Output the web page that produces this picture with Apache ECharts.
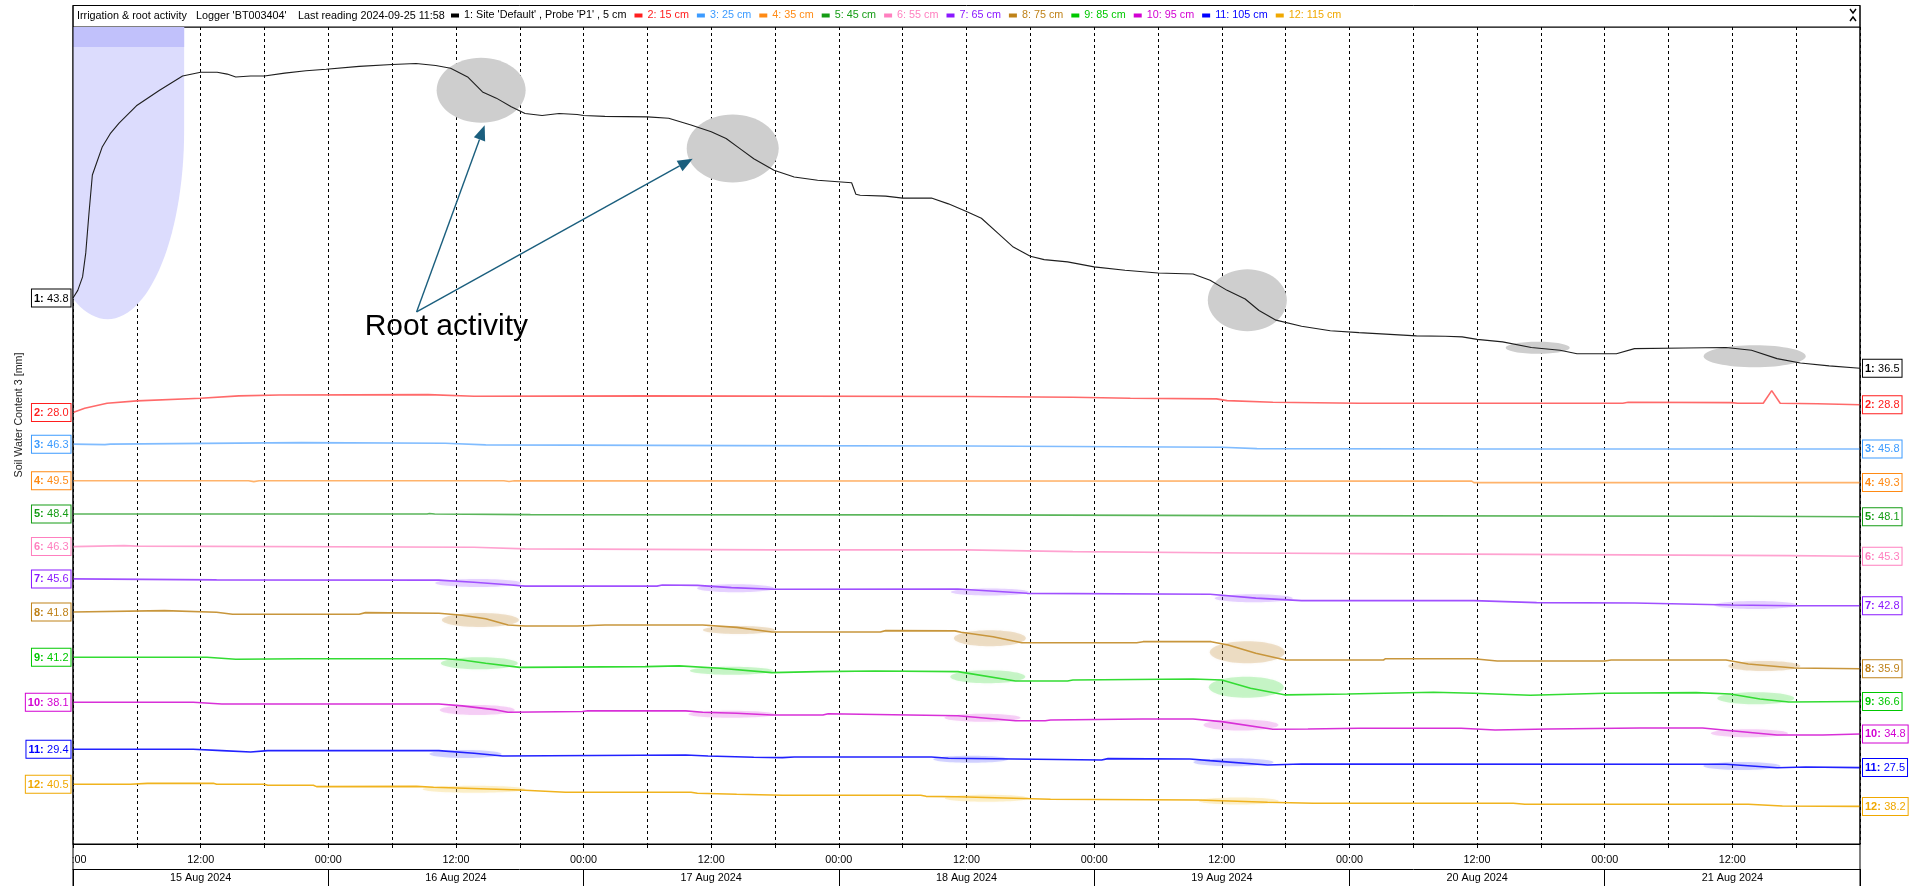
<!DOCTYPE html>
<html>
<head>
<meta charset="utf-8">
<title>Irrigation &amp; root activity</title>
<script src="https://cdn.jsdelivr.net/npm/echarts@6/dist/echarts.min.js"></script>
<style>
  html, body { margin: 0; padding: 0; background: #fff; }
  #chart { width: 1915px; height: 886px; }
</style>
</head>
<body>
<div id="chart"></div>
<script>
// ---------------- data (x = hours since 15 Aug 2024 00:00, y = soil water content, mm) ----------------
const dayLabels = ['15 Aug 2024', '16 Aug 2024', '17 Aug 2024', '18 Aug 2024', '19 Aug 2024', '20 Aug 2024', '21 Aug 2024'];

const seriesNames = [
  "1: Site 'Default' , Probe 'P1' , 5 cm", '2: 15 cm', '3: 25 cm', '4: 35 cm', '5: 45 cm', '6: 55 cm',
  '7: 65 cm', '8: 75 cm', '9: 85 cm', '10: 95 cm', '11: 105 cm', '12: 115 cm'
];

const probe1 = [[0,43.8],[0.45,44.6],[0.9,46.0],[1.2,48.5],[1.5,52.6],[1.82,56.6],[2.2,57.8],[2.76,59.55],[3.5,60.9],
  [4.33,62.0],[5.96,63.8],[8.1,65.4],[10.3,66.9],[12.0,67.3],[13.55,67.3],[14.5,67.1],[15.3,66.8],[16.7,66.9],[18,66.9],
  [19.9,67.2],[21.9,67.45],[23.8,67.6],[26.9,67.9],[30,68.1],[32.25,68.2],[34.1,68.0],[35.5,67.7],[37.1,66.8],[38.5,65.25],
  [39.8,64.6],[41.2,63.7],[42.5,63.0],[44.1,62.8],[45.7,63.0],[47.4,62.9],[48,62.8],[50,62.7],[54,62.65],[56,62.5],
  [58.1,61.8],[60,61.1],[61.4,60.4],[62.7,59.35],[64,58.3],[65.9,57.1],[67.8,56.4],[70,56.05],[73.2,55.8],[73.6,54.6],
  [74,54.5],[76.4,54.4],[78,54.2],[80.7,54.2],[82.3,53.6],[84,52.8],[85.4,52.1],[87,50.5],[88.4,49.1],[90,48.15],
  [91.3,47.8],[93.5,47.56],[96,47.04],[98.9,46.7],[102,46.4],[105.3,46.3],[106.9,45.66],[108.5,44.6],[110.2,43.7],
  [111.5,42.5],[113.1,41.5],[115.5,40.87],[118.2,40.4],[120.9,40.2],[126.3,39.86],[129,39.83],[130.6,39.76],[132,39.5],
  [134.4,39.24],[137.1,38.65],[139.8,38.37],[141.4,38.0],[145.1,38.0],[146.8,38.54],[151.6,38.6],[155.4,38.65],
  [157.8,38.37],[160.2,37.5],[162.4,37.05],[165.1,36.74],[168,36.5]];
const probe2 = [[0,28.0],[1.1,28.44],[3.2,28.96],[6,29.2],[12,29.48],[15.6,29.72],[19.4,29.82],[33.4,29.85],[37.7,29.69],
  [53.8,29.72],[84,29.66],[94,29.58],[99.4,29.48],[107.5,29.41],[108.5,29.23],[112.8,29.06],[120.9,28.96],[145.7,28.96],
  [146.2,29.06],[155.9,29.02],[156.5,28.96],[158.9,28.96],[159.7,30.27],[160.5,28.96],[164,28.9],[168,28.8]];
const probe3 = [[0,46.3],[3,46.25],[3.5,46.3],[21.5,46.46],[35,46.4],[38.8,46.22],[62.4,46.15],[84,46.1],[108,45.98],
  [111.3,45.83],[131.7,45.8],[150,45.8],[168,45.8]];
const probe4 = [[0,49.5],[16.5,49.5],[17,49.4],[17.5,49.5],[40.5,49.5],[41,49.42],[41.5,49.5],[84,49.47],[131.5,49.45],
  [131.7,49.3],[168,49.3]];
const probe5 = [[0,48.4],[33.3,48.4],[33.5,48.45],[34,48.4],[43,48.33],[84,48.3],[111.2,48.22],[157.5,48.16],[168,48.1]];
const probe6 = [[0,46.3],[4.8,46.4],[6,46.35],[37.7,46.23],[42.5,46.06],[65.7,45.96],[84,45.96],[94,45.78],[110,45.64],
  [125.8,45.54],[161.3,45.36],[168,45.3]];
const probe7 = [[0,45.6],[13.5,45.5],[34.4,45.47],[37.7,45.25],[40.9,45.0],[42.5,44.85],[54.9,44.85],[55.4,44.97],
  [58.7,44.93],[61.9,44.69],[65.9,44.52],[83.2,44.55],[89.7,44.1],[106.9,44.0],[111.2,43.6],[115.5,43.34],[131.7,43.34],
  [137.6,43.13],[146.8,43.1],[155.9,42.89],[161.8,42.8],[168,42.8]];
const probe8 = [[0,41.8],[8.6,41.94],[13.5,41.77],[15,41.56],[26.9,41.56],[27.5,41.73],[34.4,41.66],[36.6,41.46],
  [38.8,41.1],[40.9,40.45],[42.5,40.34],[47.4,40.34],[50,40.45],[59.2,40.45],[62.4,40.2],[65.7,39.72],[75.9,39.72],
  [76.4,39.86],[82.9,39.83],[83.5,39.69],[86.5,39.23],[89.2,38.6],[100,38.6],[100.6,38.71],[107,38.71],[108.6,38.37],
  [111.2,37.5],[114,36.8],[123.2,36.8],[123.4,36.94],[131.7,36.94],[133.9,36.7],[144,36.7],[144.6,36.8],[155.4,36.8],
  [157.5,36.39],[161.8,35.97],[168,35.9]];
const probe9 = [[0,41.2],[12.6,41.2],[15.3,40.99],[21.5,41.05],[35,41.05],[36.6,40.92],[38.8,40.57],[42,40.15],
  [53.8,40.22],[57,40.3],[60.8,40.05],[65.7,39.6],[70,39.7],[75.4,39.77],[83.2,39.7],[88.6,38.73],[93.5,38.73],
  [94,38.83],[105.3,38.94],[108,38.84],[110.7,37.97],[114,37.28],[119.8,37.38],[127.9,37.56],[131.7,37.45],[137,37.24],
  [144,37.45],[152.6,37.52],[155.8,37.38],[158.6,36.86],[161.3,36.55],[168,36.6]];
const probe10 = [[0,38.1],[11.3,38.1],[14,37.92],[34.4,37.92],[36.6,37.72],[39.8,37.3],[40.9,37.06],[47.9,37.13],
  [48.4,37.22],[57.6,37.2],[59.2,37.06],[62.4,36.95],[65.7,36.77],[70.5,36.77],[71,36.9],[83.2,36.7],[88.6,36.18],
  [91.4,36.18],[91.9,36.25],[100.5,36.36],[105.3,36.36],[108,36.08],[112.8,35.29],[116.1,35.32],[120.9,35.39],
  [130.5,35.39],[133.7,35.21],[138.7,35.32],[147.3,35.42],[153.2,35.42],[155.9,35.14],[160.2,34.69],[164.5,34.69],[168,34.8]];
const probe11 = [[0,29.4],[11.3,29.4],[14,29.26],[16.7,29.12],[18.3,29.26],[34.4,29.26],[37.7,28.99],[40.4,28.71],
  [57.6,28.81],[59.7,28.71],[64,28.57],[66.7,28.54],[67.8,28.6],[80.7,28.6],[82.3,28.47],[96.7,28.29],[97.3,28.43],
  [105,28.4],[106.9,28.22],[112.3,27.77],[115.5,27.87],[155.4,27.84],[160.2,27.49],[162.9,27.56],[168,27.5]];
const probe12 = [[0,40.5],[5.4,40.5],[7,40.6],[13.2,40.6],[13.5,40.5],[18,40.5],[18.3,40.4],[22.6,40.4],[22.9,40.26],
  [32.3,40.29],[33.9,40.19],[42,39.91],[46.3,39.67],[58.1,39.67],[58.7,39.57],[62.4,39.46],[66.7,39.36],[79.7,39.36],
  [80.2,39.25],[83.2,39.21],[91.9,38.94],[105.8,38.87],[112.3,38.63],[116.6,38.53],[135.4,38.53],[136.5,38.42],
  [157.5,38.42],[160.7,38.24],[168,38.2]];

const probes = [probe1, probe2, probe3, probe4, probe5, probe6, probe7, probe8, probe9, probe10, probe11, probe12];

// root-activity periods on probe 1 (hour, mm) and on the deeper probes (probe index -> [hour, mm])
const rootSpots = [[38.37,65.43],[62.02,59.35],[110.4,43.58],[137.7,38.64],[158.1,37.75]];
const probeSpots = {
  6:  [[38.1,45.17],[62.3,44.62],[86.2,44.24],[111,43.58],[158.2,42.88]],
  7:  [[38.3,40.96],[62.6,39.92],[86.2,39.06],[110.4,37.6],[159,36.18]],
  8:  [[38.2,40.57],[61.9,39.8],[86.0,39.17],[110.3,38.07],[158.2,36.93]],
  9:  [[38.0,37.29],[61.9,36.84],[85.5,36.49],[109.8,35.73],[157.6,34.87]],
  10: [[36.9,28.91],[84.4,28.36],[109.1,28.05],[156.9,27.67]],
  11: [[37.7,39.98],[85.9,39.04],[109.6,38.76]]
};
// irrigation event: window centre / end (hours) and the lowest point of its shading on the probe 1 lane
const irrigation = { centreHour: 3.25, endHour: 10.45, bottomValue: 41.6 };
// annotation anchors on the probe 1 lane
const noteAnchor = [35.1, 40.8];
const arrowFrom = [32.3, 42.36];
const arrowTips = [[38.7, 61.77], [58.26, 58.3]];

// ---------------- layout & styles ----------------
const laneMin = [-13.0, -16.9, 4.7, 11.7, 14.06, 15.36, 18.02, 17.66, 21.77, 23.35, 19.55, 34.29];
const LANE_SPAN = 85;
const lineColors = ['#1e1e1e','#ff6a6a','#80bcff','#ffb36b','#5ab55a','#ffa2d0','#a050ff','#c8963c','#33dc33','#d830d8','#2222ff','#f0b31e'];
const textColors = ['#000000','#ff1e1e','#3c9bff','#ff8a14','#159c15','#ff7fbf','#8a18ff','#bf8219','#00c800','#d200d2','#0000ff','#f0a800'];
const rootSpotSizes = [[89,65],[92,68],[79,62],[64,12],[102,22]];
const probeSpotSizes = {
  6:  [[86,8],[77,8],[78,7],[78,8],[83,8]],
  7:  [[77,14],[72,8],[72,16],[75,22],[72,10]],
  8:  [[77,12],[83,8],[75,13],[75,21],[77,12]],
  9:  [[75,10],[86,7],[76,8],[75,11],[77,8]],
  10: [[72,8],[75,7],[80,8],[77,8]],
  11: [[103,7],[84,7],[80,7]]
};
const probeSpotFill = {
  6: 'rgba(150,70,255,0.22)', 7: 'rgba(205,160,90,0.30)', 8: 'rgba(60,220,60,0.25)',
  9: 'rgba(220,60,220,0.22)', 10: 'rgba(50,50,255,0.20)', 11: 'rgba(245,200,70,0.26)'
};
const SANS = "'Liberation Sans', Arial, sans-serif";
const SMALL = 10.8;

function boxLabel(i, position) {
  const c = textColors[i];
  return {
    show: true,
    position: position,
    distance: position === 'left' ? 2 : 3,
    formatter: p => {
      const v = Array.isArray(p.value) ? p.value[1] : p.value;
      return '{k|' + (i + 1) + ':} {v|' + Number(v).toFixed(1) + '}';
    },
    backgroundColor: '#fff',
    borderColor: c,
    borderWidth: 1,
    padding: [3, 2, 2, 2],
    rich: {
      k: { fontFamily: SANS, fontSize: 11, fontWeight: 'bold', color: c },
      v: { fontFamily: SANS, fontSize: 11, color: c }
    }
  };
}

const yAxes = laneMin.map(m => ({ type: 'value', gridIndex: 0, min: m, max: m + LANE_SPAN, show: false }));

const series = probes.map((d, i) => ({
  name: seriesNames[i],
  type: 'line',
  xAxisIndex: 0,
  yAxisIndex: i,
  data: d,
  showSymbol: false,
  smooth: false,
  z: 3,
  lineStyle: { color: lineColors[i], width: i === 0 ? 1.1 : 1.6 },
  itemStyle: { color: lineColors[i] },
  endLabel: boxLabel(i, 'right'),
  markPoint: {
    silent: true,
    symbol: 'circle',
    symbolSize: 1,
    itemStyle: { color: 'rgba(0,0,0,0)' },
    data: [{ coord: d[0], value: d[0][1] }],
    label: boxLabel(i, 'left')
  }
}));

const option = {
  animation: false,
  backgroundColor: '#fff',
  textStyle: { fontFamily: SANS },
  grid: {
    left: 73, right: 55, top: 27, bottom: 42,
    show: true, borderColor: '#000', borderWidth: 1, backgroundColor: 'transparent',
    containLabel: false, outerBoundsMode: 'none'
  },
  legend: {
    left: 451, top: 10, padding: 0, itemGap: 8, itemWidth: 8, itemHeight: 4, icon: 'rect',
    selectedMode: false,
    textStyle: { fontFamily: SANS, fontSize: SMALL },
    data: seriesNames.map((n, i) => ({ name: n, itemStyle: { color: textColors[i] }, textStyle: { color: textColors[i] } }))
  },
  xAxis: [
    {
      type: 'value', gridIndex: 0, position: 'bottom', min: 0, max: 168, interval: 6,
      axisLine: { show: true, onZero: false, lineStyle: { color: '#000', width: 1 } },
      axisTick: { show: true, length: 4, lineStyle: { color: '#000' } },
      axisLabel: {
        show: true, margin: 11, fontFamily: SANS, fontSize: SMALL, color: '#000', showMaxLabel: false,
        formatter: v => {
          if (v >= 168) return '';
          const hod = v % 24;
          return hod % 12 === 0 ? String(hod).padStart(2, '0') + ':00' : '';
        }
      },
      splitLine: { show: true, lineStyle: { color: '#000', width: 1, type: [3, 3] } }
    },
    {
      type: 'category', gridIndex: 0, position: 'bottom', offset: 25, data: dayLabels, boundaryGap: true,
      axisLine: { show: true, onZero: false, lineStyle: { color: '#000', width: 1 } },
      axisTick: { show: true, length: 17, interval: 0, alignWithLabel: false, lineStyle: { color: '#000' } },
      axisLabel: { show: true, interval: 0, margin: 4, fontFamily: SANS, fontSize: SMALL, color: '#000' },
      splitLine: { show: false }
    }
  ],
  yAxis: yAxes,
  series: series
};

const chart = echarts.init(document.getElementById('chart'), null, { renderer: 'canvas' });
chart.setOption(option);

// ---------------- annotations placed through the axes ----------------
const px = (lane, h, v) => chart.convertToPixel({ seriesIndex: lane }, [h, v]);
const gl = px(0, 0, laneMin[0])[0];
const gr = px(0, 168, laneMin[0])[0];
const gb = px(0, 0, laneMin[0])[1];
const gt = px(0, 0, laneMin[0] + LANE_SPAN)[1];

const g = [];
// header frame
g.push({ type: 'rect', z: 0, shape: { x: gl, y: 5.5, width: gr - gl, height: gt - 5.5 }, style: { fill: '#fff', stroke: '#000', lineWidth: 1 } });
[['Irrigation & root activity', 77], ["Logger 'BT003404'", 196], ['Last reading 2024-09-25 11:58', 298]].forEach(([t, x]) => {
  g.push({ type: 'text', z: 5, x: x, y: 16.5, style: { text: t, fill: '#000', font: SMALL + 'px ' + SANS, textVerticalAlign: 'middle' } });
});
// scroll chevrons
g.push({ type: 'polyline', z: 5, shape: { points: [[1850, 9], [1853, 13], [1856, 9]] }, style: { stroke: '#000', lineWidth: 1.4, fill: null } });
g.push({ type: 'polyline', z: 5, shape: { points: [[1850, 21], [1853, 17], [1856, 21]] }, style: { stroke: '#000', lineWidth: 1.4, fill: null } });
// y axis title
g.push({ type: 'text', z: 5, x: 19.5, y: 415, rotation: Math.PI / 2,
  style: { text: 'Soil Water Content 3 [mm]', fill: '#222', font: '10.7px ' + SANS, textAlign: 'center', textVerticalAlign: 'middle' } });

// irrigation shading
const icx = px(0, irrigation.centreHour, 0)[0];
const ixr = px(0, irrigation.endHour, 0)[0];
const iyb = px(0, 0, irrigation.bottomValue)[1];
const irx = ixr - icx, iry = 189, icy = iyb - iry;
const ipts = [[gl, gt], [ixr, gt], [ixr, icy]];
for (let k = 0; k <= 60; k++) {
  const a = Math.PI * k / 60;
  ipts.push([Math.max(gl, icx + irx * Math.cos(a)), icy + iry * Math.sin(a)]);
}
ipts.push([gl, icy]);
g.push({ type: 'polygon', z: 1, shape: { points: ipts }, style: { fill: '#dcdcfd' } });
g.push({ type: 'rect', z: 1, shape: { x: gl, y: gt, width: ixr - gl, height: 20 }, style: { fill: '#c1c1fb' } });

// root activity spots
rootSpots.forEach((s, k) => {
  const [cx, cy] = px(0, s[0], s[1]);
  g.push({ type: 'ellipse', z: 1, shape: { cx, cy, rx: rootSpotSizes[k][0] / 2, ry: rootSpotSizes[k][1] / 2 }, style: { fill: '#cecece' } });
});
Object.keys(probeSpots).forEach(key => {
  const lane = +key;
  probeSpots[key].forEach((s, k) => {
    const [cx, cy] = px(lane, s[0], s[1]);
    const sz = probeSpotSizes[key][k];
    g.push({ type: 'ellipse', z: 1, shape: { cx, cy, rx: sz[0] / 2, ry: sz[1] / 2 },
      style: { fill: probeSpotFill[key], shadowBlur: 3, shadowColor: probeSpotFill[key] } });
  });
});

// "Root activity" note with arrows
const ARROW = '#1b5f7e';
const o = px(0, arrowFrom[0], arrowFrom[1]);
arrowTips.forEach(t => {
  const tip = px(0, t[0], t[1]);
  const dx = tip[0] - o[0], dy = tip[1] - o[1], len = Math.hypot(dx, dy);
  const ux = dx / len, uy = dy / len, hl = 15, hw = 6;
  const bx = tip[0] - ux * hl, by = tip[1] - uy * hl;
  g.push({ type: 'line', z: 6, shape: { x1: o[0], y1: o[1], x2: bx, y2: by }, style: { stroke: ARROW, lineWidth: 1.4 } });
  g.push({ type: 'polygon', z: 6, shape: { points: [tip, [bx - uy * hw, by + ux * hw], [bx + uy * hw, by - ux * hw]] }, style: { fill: ARROW } });
});
const np = px(0, noteAnchor[0], noteAnchor[1]);
g.push({ type: 'text', z: 6, x: np[0], y: np[1], style: { text: 'Root activity', fill: '#000', font: '30px ' + SANS, textAlign: 'center', textVerticalAlign: 'middle' } });

// hide the part of the first time label that falls left of the plot, and extend the frame sides
g.push({ type: 'rect', z: 20, shape: { x: 25, y: gb + 1, width: gl - 25 - 0.5, height: 23 }, style: { fill: '#fff' } });
[gl, gr].forEach(x => {
  g.push({ type: 'line', z: 21, shape: { x1: x, y1: 5, x2: x, y2: 886 }, style: { stroke: '#000', lineWidth: 1 } });
});

chart.setOption({ graphic: { elements: g } });
</script>
</body>
</html>
